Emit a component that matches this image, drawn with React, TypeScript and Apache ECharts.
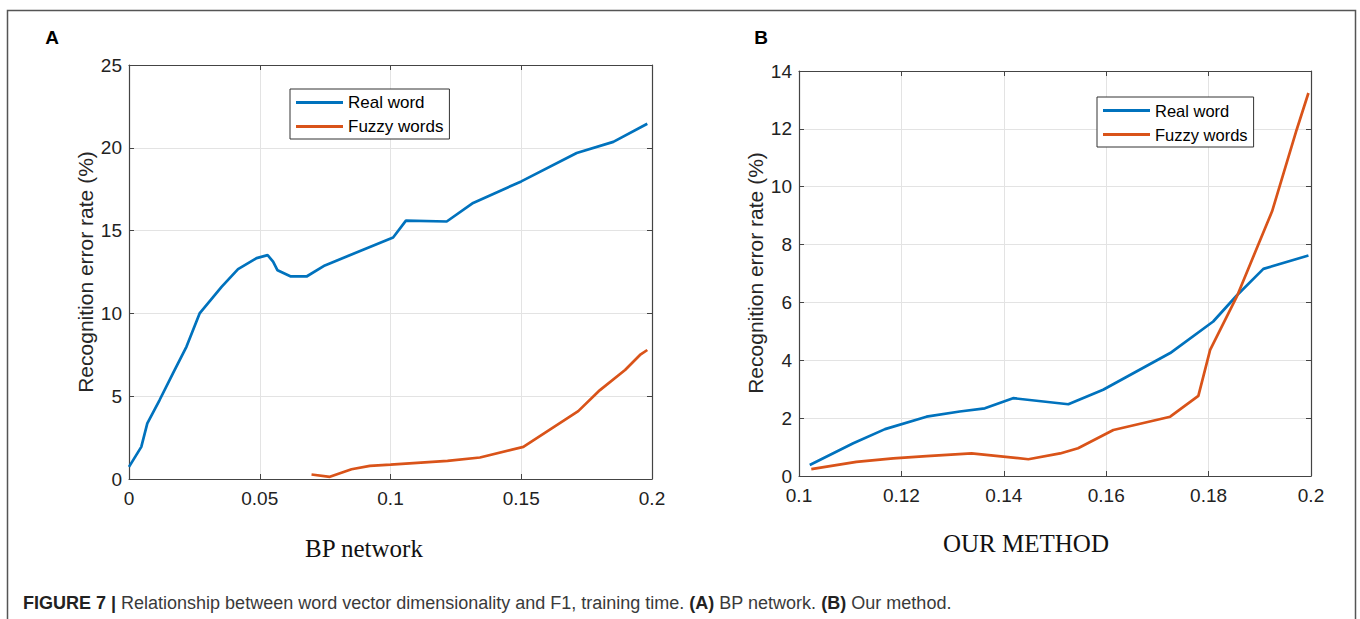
import React, { useEffect, useRef } from "react";
import * as echarts from "echarts";

// ---- Data ----
const aRealX = [0, 0.0047, 0.007, 0.0117, 0.0168, 0.022, 0.027, 0.0354, 0.0417, 0.0488, 0.053, 0.0551, 0.0568, 0.0619, 0.0679, 0.0749, 0.101, 0.1059, 0.1215, 0.1316, 0.15, 0.1712, 0.1852, 0.1982];
const aRealY = [0.73, 1.94, 3.36, 4.77, 6.38, 8.0, 10.0, 11.6, 12.67, 13.34, 13.52, 13.13, 12.6, 12.23, 12.23, 12.9, 14.58, 15.6, 15.55, 16.67, 17.97, 19.69, 20.36, 21.45];
const aFuzzyX = [0.0698, 0.0768, 0.0851, 0.0921, 0.1, 0.1218, 0.1342, 0.1508, 0.1718, 0.1801, 0.1897, 0.1954, 0.1982];
const aFuzzyY = [0.27, 0.13, 0.59, 0.79, 0.87, 1.1, 1.3, 1.94, 4.1, 5.37, 6.58, 7.49, 7.79];

const bRealX = [0.1021, 0.1106, 0.1168, 0.1249, 0.1314, 0.1363, 0.1418, 0.1526, 0.1594, 0.1725, 0.1809, 0.1855, 0.1907, 0.1995];
const bRealY = [0.38, 1.13, 1.62, 2.05, 2.23, 2.34, 2.69, 2.48, 2.98, 4.25, 5.34, 6.24, 7.16, 7.62];
const bFuzzyX = [0.1024, 0.1112, 0.1184, 0.1249, 0.1337, 0.1448, 0.151, 0.1545, 0.1614, 0.1725, 0.178, 0.1803, 0.1855, 0.1924, 0.1972, 0.1995];
const bFuzzyY = [0.24, 0.49, 0.61, 0.69, 0.78, 0.58, 0.78, 0.96, 1.59, 2.05, 2.77, 4.36, 6.2, 9.15, 11.97, 13.24];

const seriesNames = ["Real word", "Fuzzy words"];
const panelLabels = ["A", "B"];
const xTitles = ["BP network", "OUR METHOD"];
const yTitle = "Recognition error rate (%)";
const axisA = { xMin: 0, xMax: 0.2, xStep: 0.05, yMin: 0, yMax: 25, yStep: 5 };
const axisB = { xMin: 0.1, xMax: 0.2, xStep: 0.02, yMin: 0, yMax: 14, yStep: 2 };

const BLUE = "#0072BD";
const ORANGE = "#D95319";
const SANS = "Liberation Sans, Arial, sans-serif";
const SERIF = "Liberation Serif, Times New Roman, serif";

const zip = (xs: number[], ys: number[]) => xs.map((x, i) => [x, ys[i]]);
const fmt = (v: number) => String(+v.toFixed(3));

function mainX(gridIndex: number, ax: any) {
  return {
    type: "value", gridIndex, min: ax.xMin, max: ax.xMax, interval: ax.xStep,
    axisLine: { show: true, onZero: false, lineStyle: { color: "#444", width: 1.2 } },
    axisTick: { show: true, inside: true, length: 5, lineStyle: { color: "#444" } },
    axisLabel: { margin: 10, fontSize: 19, color: "#222", fontFamily: SANS, formatter: fmt },
    splitLine: { show: true, lineStyle: { color: "#e3e3e3", width: 1 } },
  };
}
function mainY(gridIndex: number, ax: any) {
  return {
    type: "value", gridIndex, min: ax.yMin, max: ax.yMax, interval: ax.yStep,
    axisLine: { show: true, onZero: false, lineStyle: { color: "#444", width: 1.2 } },
    axisTick: { show: true, inside: true, length: 5, lineStyle: { color: "#444" } },
    axisLabel: { margin: 7, fontSize: 19, color: "#222", fontFamily: SANS, formatter: fmt },
    splitLine: { show: true, lineStyle: { color: "#e3e3e3", width: 1 } },
  };
}
function boxX(gridIndex: number, ax: any) {
  return {
    type: "value", gridIndex, position: "top", min: ax.xMin, max: ax.xMax, interval: ax.xStep,
    axisLine: { show: true, onZero: false, lineStyle: { color: "#444", width: 1.2 } },
    axisTick: { show: true, inside: true, length: 5, lineStyle: { color: "#444" } },
    axisLabel: { show: false }, splitLine: { show: false },
  };
}
function boxY(gridIndex: number, ax: any) {
  return {
    type: "value", gridIndex, position: "right", min: ax.yMin, max: ax.yMax, interval: ax.yStep,
    axisLine: { show: true, onZero: false, lineStyle: { color: "#444", width: 1.2 } },
    axisTick: { show: true, inside: true, length: 5, lineStyle: { color: "#444" } },
    axisLabel: { show: false }, splitLine: { show: false },
  };
}
function line(name: string, color: string, xi: number, yi: number, data: number[][]) {
  return {
    type: "line", name, xAxisIndex: xi, yAxisIndex: yi, data,
    showSymbol: false, symbol: "none",
    lineStyle: { color, width: 2.7 }, itemStyle: { color },
  };
}
function legend(left: number, top: number, fontSize: number) {
  return {
    left, top, orient: "vertical", data: seriesNames,
    icon: "rect", itemWidth: 47, itemHeight: 3, itemGap: 7,
    padding: [5, 6, 4, 6],
    borderColor: "#333", borderWidth: 1, backgroundColor: "#fff",
    selectedMode: false,
    textStyle: { fontSize, color: "#000", fontFamily: SANS },
  };
}

export default function App() {
  const ref = useRef<HTMLDivElement>(null);
  useEffect(() => {
    const chart = echarts.init(ref.current!, null, { renderer: "svg" });
    const option: any = {
      animation: false,
      backgroundColor: "#fff",
      grid: [
        { left: 129, top: 65, width: 523, height: 414 },
        { left: 799, top: 71, width: 512, height: 405 },
      ],
      xAxis: [mainX(0, axisA), boxX(0, axisA), mainX(1, axisB), boxX(1, axisB)],
      yAxis: [mainY(0, axisA), boxY(0, axisA), mainY(1, axisB), boxY(1, axisB)],
      legend: [legend(290, 89, 17), legend(1097, 97, 16.5)],
      series: [
        line(seriesNames[0], BLUE, 0, 0, zip(aRealX, aRealY)),
        line(seriesNames[1], ORANGE, 0, 0, zip(aFuzzyX, aFuzzyY)),
        line(seriesNames[0], BLUE, 2, 2, zip(bRealX, bRealY)),
        line(seriesNames[1], ORANGE, 2, 2, zip(bFuzzyX, bFuzzyY)),
      ],
      graphic: [
        { type: "rect", silent: true, shape: { x: 7.5, y: 10.5, width: 1348, height: 700 }, style: { fill: "none", stroke: "#555", lineWidth: 1.5 }, z: -1 },
        { type: "text", x: 52, y: 37, style: { text: panelLabels[0], font: `bold 19px ${SANS}`, fill: "#000", align: "center", verticalAlign: "middle" } },
        { type: "text", x: 761, y: 37, style: { text: panelLabels[1], font: `bold 19px ${SANS}`, fill: "#000", align: "center", verticalAlign: "middle" } },
        { type: "text", x: 85, y: 272, rotation: Math.PI / 2, style: { text: yTitle, font: `21px ${SANS}`, fill: "#262626", align: "center", verticalAlign: "middle" } },
        { type: "text", x: 755, y: 273, rotation: Math.PI / 2, style: { text: yTitle, font: `21px ${SANS}`, fill: "#262626", align: "center", verticalAlign: "middle" } },
        { type: "text", x: 364, y: 548, style: { text: xTitles[0], font: `25px ${SERIF}`, fill: "#111", align: "center", verticalAlign: "middle" } },
        { type: "text", x: 1026, y: 543, style: { text: xTitles[1], font: `25px ${SERIF}`, fill: "#111", align: "center", verticalAlign: "middle" } },
        {
          type: "text", x: 23, y: 603,
          style: {
            text: "{b|FIGURE 7 |} {n|Relationship between word vector dimensionality and F1, training time.} {b|(A)}{n| BP network.} {b|(B)}{n| Our method.}",
            font: `18px ${SANS}`, fill: "#333", verticalAlign: "middle",
            rich: {
              b: { fontFamily: SANS, fontSize: 18, fontWeight: "bold", fill: "#222" },
              n: { fontFamily: SANS, fontSize: 18, fill: "#3a3a3a" },
            },
          },
        },
      ],
    };
    chart.setOption(option);
    return () => chart.dispose();
  }, []);
  return <div ref={ref} style={{ position: "absolute", left: 0, top: 0, width: 1360, height: 619 }} />;
}
